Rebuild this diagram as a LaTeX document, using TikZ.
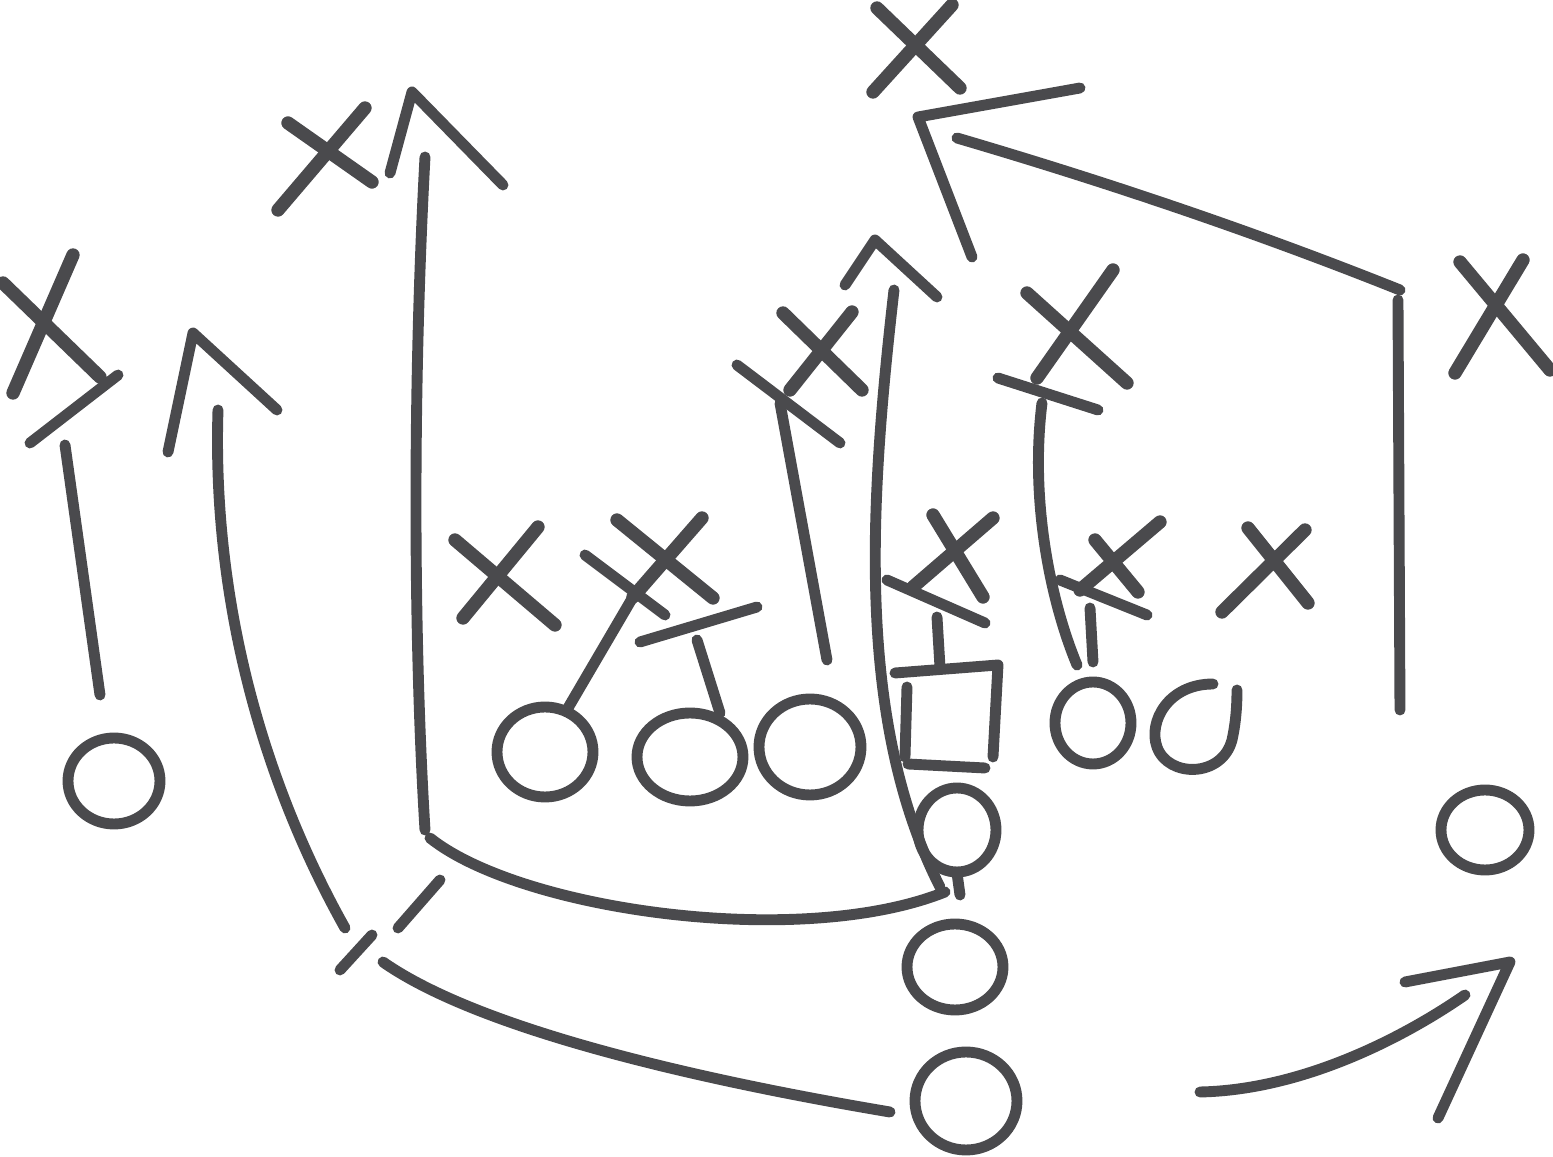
\documentclass[tikz,border=0pt]{standalone}
\usepackage{xcolor}
\definecolor{ChalkGrey}{HTML}{4A4A4D}
\usepackage{tikz}
\usetikzlibrary{calc}

\tikzset{
  chalk/.style={draw=ChalkGrey, line width=3.1pt, line cap=round, line join=round},
  chalkx/.style={chalk, line width=3.8pt},
}

\begin{document}
\begin{tikzpicture}[x=0.1mm, y=-0.1mm]
        \useasboundingbox (0,0) rectangle (1553,1157);

        % offense
        \coordinate (wideL) at (114,781);
        \coordinate (oA) at (545,752);
        \coordinate (oB) at (690,757);
        \coordinate (oC) at (810,747);
        \coordinate (oD) at (1093,723);
        \coordinate (qb) at (957,830);
        \coordinate (hb) at (955,967);
        \coordinate (fb) at (966,1101);
        \coordinate (wideR) at (1485,830);

        \draw[chalk] (wideL) ellipse [x radius=46, y radius=43];
        \draw[chalk] (oA) ellipse [x radius=48, y radius=45];
        \draw[chalk] (oB) ellipse [x radius=53, y radius=44];
        \draw[chalk] (oC) ellipse [x radius=51, y radius=48];
        \draw[chalk] (oD) ellipse [x radius=38, y radius=41];
        \draw[chalk] (1213,684) .. controls (1168,684) and (1148,722) .. (1157,747)
                     .. controls (1168,778) and (1222,778) .. (1232,740)
                     .. controls (1236,722) and (1237,705) .. (1237,690);
        \draw[chalk] (qb) ellipse [x radius=39, y radius=42];
        \draw[chalk] (hb) ellipse [x radius=48, y radius=43];
        \draw[chalk] (fb) ellipse [x radius=51, y radius=49];
        \draw[chalk] (wideR) ellipse [x radius=44, y radius=40];
        \draw[chalk] (957,873) -- (960,895);

        % center
        \draw[chalk] (895,673) -- (998,665) -- (993,757);
        \draw[chalk] (907,687) -- (905,757);
        \draw[chalk] (908,764) -- (985,768);

        % defense
        \draw[chalkx] (877,8) -- (960,88);   \draw[chalkx] (952,5) -- (873,92);
        \draw[chalkx] (288,123) -- (372,182); \draw[chalkx] (365,108) -- (278,210);
        \draw[chalkx] (3,283) -- (100,377);   \draw[chalkx] (73,255) -- (13,393);
        \draw[chalkx] (1460,262) -- (1550,370); \draw[chalkx] (1523,260) -- (1455,373);
        \draw[chalkx] (783,313) -- (862,390); \draw[chalkx] (852,312) -- (790,390);
        \draw[chalkx] (1027,293) -- (1127,383); \draw[chalkx] (1113,270) -- (1037,378);
        \draw[chalkx] (455,540) -- (555,625); \draw[chalkx] (538,527) -- (463,618);
        \draw[chalkx] (617,520) -- (713,598); \draw[chalkx] (702,518) -- (633,597);
        \draw[chalkx] (933,515) -- (983,597); \draw[chalkx] (993,518) -- (913,587);
        \draw[chalkx] (1095,540) -- (1138,592); \draw[chalkx] (1160,522) -- (1080,590);
        \draw[chalkx] (1248,528) -- (1308,603); \draw[chalkx] (1305,530) -- (1222,612);

        % blocks
        \draw[chalk] (118,375) -- (30,443);
        \draw[chalk] (65,445) -- (100,695);
        \draw[chalk] (633,597) -- (568,708);
        \draw[chalk] (585,555) -- (665,615);
        \draw[chalk] (640,642) -- (757,607);
        \draw[chalk] (697,640) -- (720,713);
        \draw[chalk] (737,365) -- (840,443);
        \draw[chalk] (780,403) -- (827,660);
        \draw[chalk] (998,378) -- (1098,410);
        \draw[chalk] (1042,403) .. controls (1030,500) and (1050,600) .. (1077,665);
        \draw[chalk] (887,580) -- (985,623);
        \draw[chalk] (937,617) -- (940,667);
        \draw[chalk] (1060,580) -- (1147,615);
        \draw[chalk] (1090,608) -- (1093,662);
        \draw[chalk] (440,880) -- (398,928);
        \draw[chalk] (372,935) -- (340,970);

        % routes
        \draw[chalk] (218,410) .. controls (212,600) and (262,780) .. (345,928);
        \draw[chalk] (168,452) -- (193,333) -- (277,410);

        \draw[chalk] (425,157) .. controls (412,400) and (414,650) .. (425,830);
        \draw[chalk] (390,173) -- (412,92) -- (503,185);
        \draw[chalk] (430,838) .. controls (520,910) and (800,950) .. (945,892);

        \draw[chalk] (894,290) .. controls (870,500) and (855,720) .. (940,887);
        \draw[chalk] (845,285) -- (875,240) -- (937,297);

        \draw[chalk] (957,138) .. controls (1100,180) and (1250,230) .. (1400,290);
        \draw[chalk] (1398,300) -- (1400,710);
        \draw[chalk] (1080,88) -- (918,117) -- (972,257);

        \draw[chalk] (383,962) .. controls (480,1030) and (700,1080) .. (890,1112);
        \draw[chalk] (1200,1092) .. controls (1300,1090) and (1400,1040) .. (1465,995);
        \draw[chalk] (1405,982) -- (1510,962) -- (1438,1118);
    \end{tikzpicture}
\end{document}
